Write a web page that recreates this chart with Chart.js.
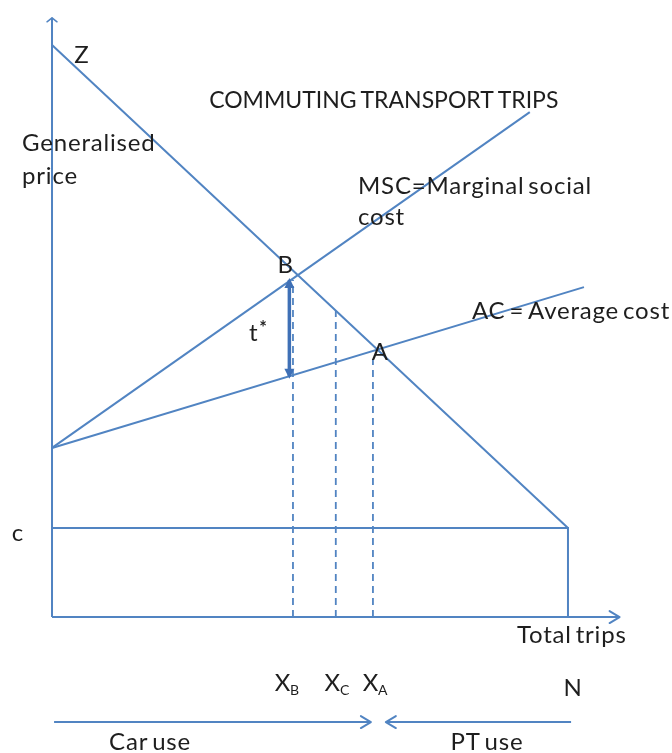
<!DOCTYPE html>
<html><head><meta charset="utf-8">
<style>html,body{margin:0;padding:0;background:#fff}#wrap{width:672px;height:753px}</style>
<script src="https://cdn.jsdelivr.net/npm/chart.js@4.4.0/dist/chart.umd.min.js"></script>
</head><body><div id="wrap"><canvas id="c" width="672" height="753"></canvas></div>
<script>
// ---- data (diagram units) ----
const demandX = [0, 10];        const demandY = [9.64, 1.5];   // Z -> N at level c
const mscX = [0, 9.26];         const mscY = [2.85, 8.51];     // marginal social cost
const acX = [0, 10.31];         const acY = [2.85, 5.56];      // average cost
const cLevel = 1.5;
const nTrips = 10;
const dashX = [4.67, 5.5, 6.22];          // X_B, X_C, X_A
const dashTop = [5.68, 5.16, 4.35];
const tStarX = 4.60;  const tStarY = [4.05, 5.68];
const yAxisTop = 10.1; const xAxisEnd = 11.0;
const carUseX = [0.04, 6.18]; const ptUseX = [10.06, 6.47]; const useArrowY = -1.77;

const labels = [
  {t:'Z', x:0.58, y:9.47, a:'center'},
  {t:'COMMUTING TRANSPORT TRIPS', x:6.43, y:8.71, a:'center', title:true},
  {t:'Generalised', x:-0.58, y:7.99, a:'left'},
  {t:'price', x:-0.58, y:7.43, a:'left'},
  {t:'MSC=Marginal social', x:5.93, y:7.26, a:'left'},
  {t:'cost', x:5.93, y:6.74, a:'left'},
  {t:'AC = Average cost', x:8.14, y:5.16, a:'left'},
  {t:'B', x:4.53, y:5.93, a:'center'},
  {t:'t', sup:'*', x:3.99, y:4.79, a:'center'},
  {t:'A', x:6.36, y:4.47, a:'center'},
  {t:'c', x:-0.66, y:1.42, a:'center'},
  {t:'Total trips', x:9.01, y:-0.30, a:'left'},
  {t:'X', sub:'B', x:4.57, y:-1.11, a:'center'},
  {t:'X', sub:'C', x:5.54, y:-1.11, a:'center'},
  {t:'X', sub:'A', x:6.28, y:-1.11, a:'center'},
  {t:'N', x:10.1, y:-1.20, a:'center'},
  {t:'Car use', x:1.90, y:-2.11, a:'center'},
  {t:'PT use', x:8.43, y:-2.11, a:'center'}
];

// ---- styling ----
const BLUE = '#5184C2';
const FONT = 'Lato';
const FS = 24;

function seg(xs, ys) { return xs.map((x, i) => ({x: x, y: ys[i]})); }
function line(data, extra) {
  return Object.assign({data: data, showLine: true, borderColor: BLUE, borderWidth: 2,
    pointRadius: 0, fill: false, clip: false, tension: 0}, extra || {});
}

const datasets = [
  line(seg([0, 0], [0, yAxisTop]), {arrow: 'fork'}),
  line(seg([0, xAxisEnd], [0, 0]), {arrow: 'open'}),
  line(seg(demandX, demandY)),
  line(seg(mscX, mscY)),
  line(seg(acX, acY)),
  line(seg([0, nTrips, nTrips], [cLevel, cLevel, 0])),
  line(seg(carUseX, [useArrowY, useArrowY]), {arrow: 'open'}),
  line(seg(ptUseX, [useArrowY, useArrowY]), {arrow: 'open'})
];
dashX.forEach((x, i) => datasets.push(line(seg([x, x], [0, dashTop[i]]), {borderDash: [7, 5], borderWidth: 1.8})));
datasets.push(line(seg([tStarX, tStarX], tStarY), {borderWidth: 3.5, borderColor: '#3F70B6', arrow: 'both'}));

const arrowPlugin = {
  id: 'arrows',
  afterDatasetsDraw(chart) {
    const ctx = chart.ctx;
    chart.data.datasets.forEach((ds, i) => {
      if (!ds.arrow) return;
      const pts = chart.getDatasetMeta(i).data;
      const ends = [[pts[pts.length - 2], pts[pts.length - 1]]];
      if (ds.arrow === 'both') ends.push([pts[1], pts[0]]);
      ends.forEach(([p0, p1]) => {
        const ang = Math.atan2(p1.y - p0.y, p1.x - p0.x);
        ctx.save();
        ctx.strokeStyle = ds.borderColor; ctx.fillStyle = ds.borderColor;
        ctx.lineWidth = 2; ctx.lineCap = 'round'; ctx.lineJoin = 'round';
        ctx.translate(p1.x, p1.y); ctx.rotate(ang);
        if (ds.arrow === 'open') {
          ctx.beginPath(); ctx.moveTo(-10, -6); ctx.lineTo(0, 0); ctx.lineTo(-10, 6); ctx.stroke();
        } else if (ds.arrow === 'fork') {
          ctx.lineWidth = 1.5;
          ctx.beginPath(); ctx.moveTo(-4, -5); ctx.lineTo(0, 0); ctx.lineTo(-4, 5); ctx.stroke();
        } else {
          ctx.beginPath(); ctx.moveTo(2, 0); ctx.lineTo(-8, -5); ctx.lineTo(-8, 5); ctx.closePath(); ctx.fill();
        }
        ctx.restore();
      });
    });
  }
};

const labelPlugin = {
  id: 'labels',
  afterDraw(chart) {
    const ctx = chart.ctx, xs = chart.scales.x, ys = chart.scales.y;
    ctx.save();
    ctx.fillStyle = '#1e1e1e';
    ctx.textBaseline = 'middle';
    ctx.textAlign = 'left';
    labels.forEach(l => {
      const px = xs.getPixelForValue(l.x), py = ys.getPixelForValue(l.y);
      const fs = l.title ? 23 : FS;
      ctx.letterSpacing = l.title ? '0px' : '0.8px';
      ctx.wordSpacing = l.title ? '-2px' : '-3px';
      ctx.font = fs + 'px ' + FONT;
      const w = ctx.measureText(l.t).width;
      let small = 0;
      if (l.sub) { ctx.font = Math.round(fs * 0.6) + 'px ' + FONT; small = ctx.measureText(l.sub).width; }
      if (l.sup) { ctx.font = 'bold ' + Math.round(fs * 0.75) + 'px ' + FONT; small = ctx.measureText(l.sup).width; }
      const left = l.a === 'center' ? px - (w + small) / 2 : px;
      ctx.font = fs + 'px ' + FONT;
      ctx.fillText(l.t, left, py);
      if (l.sub) { ctx.font = Math.round(fs * 0.6) + 'px ' + FONT; ctx.fillText(l.sub, left + w - 1, py + fs * 0.3); }
      if (l.sup) { ctx.font = 'bold ' + Math.round(fs * 0.75) + 'px ' + FONT; ctx.fillText(l.sup, left + w + 1, py - fs * 0.2); }
    });
    ctx.restore();
  }
};

new Chart(document.getElementById('c'), {
  type: 'scatter',
  data: {datasets: datasets},
  options: {
    responsive: false, animation: false, devicePixelRatio: 1,
    layout: {padding: 0},
    plugins: {legend: {display: false}, tooltip: {enabled: false}, title: {display: false}},
    scales: {
      x: {type: 'linear', min: -1.008, max: 12.016, display: false},
      y: {type: 'linear', min: -2.292, max: 10.4, display: false}
    }
  },
  plugins: [arrowPlugin, labelPlugin]
});
</script></body></html>
